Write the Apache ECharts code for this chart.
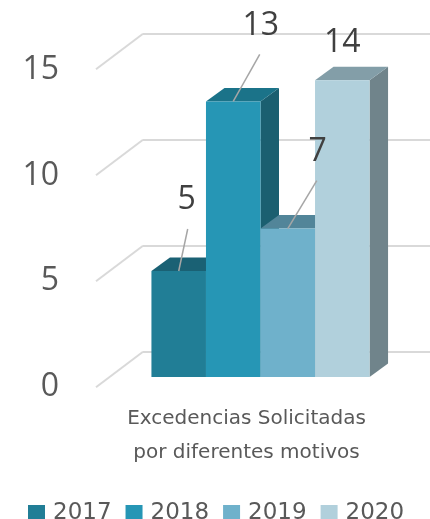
<!DOCTYPE html>
<html>
<head>
<meta charset="utf-8">
<style>html,body{margin:0;padding:0;background:#fff;overflow:hidden}#c{width:430px;height:519px}</style>
<script src="https://cdn.jsdelivr.net/npm/echarts@6/dist/echarts.min.js"></script>
</head>
<body>
<div id="c"></div>
<script>
const category = 'Excedencias Solicitadas\npor diferentes motivos';
const years = ['2017', '2018', '2019', '2020'];
const values = [5, 13, 7, 14];
const yTicks = [0, 5, 10, 15];

const frontColors = ['#217e96', '#2696b5', '#6fb1cb', '#b1d0dc'];
const topColors = ['#1a6174', '#1b7389', '#528599', '#839ea8'];
const sideColors = ['#1a5a6b', '#1b5f70', '#4d7a8c', '#70848b'];
// [label dx, label dy, leader dx, leader dy] from the front-top centre of each bar
const labelOffsets = [[8, -71, 9, -42], [27.5, -76, 26.5, -47], [30, -77, 29, -48], [0, -37, null, null]];

const BAR_RATIO = 0.19, SHIFT_X = -26, SHIFT_Y = 25.3, DEPTH_X = 18.5, DEPTH_Y = 13.5;

function barFront(api, i, v) {
  const c = api.coord([0, 0]);
  const w = api.size([1, 0])[0] * BAR_RATIO;
  const x = c[0] + SHIFT_X + (i - 2) * w;
  return { x, w, y0: c[1] + SHIFT_Y, y1: api.coord([0, v])[1] + SHIFT_Y };
}

const barSeries = years.map((y, i) => ({
  name: y,
  type: 'custom',
  z: 3 + i * 0.01,
  itemStyle: { color: frontColors[i] },
  encode: { x: 0, y: 1 },
  data: [[0, values[i]]],
  renderItem(params, api) {
    const b = barFront(api, i, api.value(1));
    const r = b.x + b.w;
    return {
      type: 'group',
      children: [
        { type: 'polygon', shape: { points: [[r, b.y0], [r + DEPTH_X, b.y0 - DEPTH_Y], [r + DEPTH_X, b.y1 - DEPTH_Y], [r, b.y1]] }, style: { fill: sideColors[i] } },
        { type: 'polygon', shape: { points: [[b.x, b.y1], [b.x + DEPTH_X, b.y1 - DEPTH_Y], [r + DEPTH_X, b.y1 - DEPTH_Y], [r, b.y1]] }, style: { fill: topColors[i] } },
        { type: 'rect', shape: { x: b.x, y: b.y1, width: b.w, height: b.y0 - b.y1 }, style: { fill: frontColors[i] } }
      ]
    };
  }
}));

const option = {
  animation: false,
  backgroundColor: '#ffffff',
  grid: [
    { left: 143, right: 0, top: 33.7, bottom: 167.3, outerBoundsMode: 'none' },
    { left: 96, right: 0, top: 69.5, bottom: 131.7, outerBoundsMode: 'none' }
  ],
  legend: {
    data: years,
    left: 23,
    top: 497,
    icon: 'rect',
    itemWidth: 17,
    itemHeight: 17,
    itemGap: 14,
    textStyle: { fontFamily: 'DejaVu Sans', fontSize: 23, color: '#595959', padding: [0, 0, 0, 3] }
  },
  xAxis: [
    {
      type: 'category',
      gridIndex: 0,
      data: [category],
      axisLine: { show: false },
      axisTick: { show: false },
      axisLabel: {
        margin: 50,
        fontFamily: 'DejaVu Sans',
        fontSize: 20,
        lineHeight: 34,
        color: '#595959',
        padding: [0, 80, 0, 0]
      }
    },
    { type: 'category', gridIndex: 1, data: [category], show: false }
  ],
  yAxis: [
    {
      type: 'value',
      gridIndex: 0,
      min: 0,
      max: 15,
      interval: 5,
      axisLine: { show: false },
      axisTick: { show: false },
      axisLabel: { show: false },
      splitLine: { lineStyle: { color: '#d9d9d9', width: 2 } }
    },
    {
      type: 'value',
      gridIndex: 1,
      min: 0,
      max: 15,
      interval: 5,
      axisLine: { show: false },
      axisTick: { show: false },
      splitLine: { show: false },
      axisLabel: {
        margin: 37,
        fontFamily: 'Open Sans',
        fontSize: 32,
        color: '#595959'
      }
    }
  ],
  series: [
    {
      name: 'floorLines',
      type: 'custom',
      z: 1,
      encode: { x: 0, y: 1 },
      data: yTicks.map(t => [0, t]),
      renderItem(params, api) {
        const p = api.coord([0, api.value(1)]);
        const x = params.coordSys.x;
        return { type: 'line', shape: { x1: x, y1: p[1], x2: x - 47, y2: p[1] + 35.5 }, style: { stroke: '#d9d9d9', lineWidth: 2 } };
      }
    },
    ...barSeries,
    {
      name: 'valueLabels',
      type: 'custom',
      z: 6,
      encode: { x: 0, y: 1 },
      data: values.map(v => [0, v]),
      renderItem(params, api) {
        const i = params.dataIndex;
        const b = barFront(api, i, api.value(1));
        const cx = b.x + b.w / 2;
        const o = labelOffsets[i];
        const children = [{
          type: 'text',
          style: {
            x: cx + o[0], y: b.y1 + o[1], text: String(values[i]), align: 'center', verticalAlign: 'middle',
            fontFamily: 'Open Sans', fontSize: 32, fill: '#404040'
          }
        }];
        if (o[2] !== null) {
          children.push({ type: 'line', shape: { x1: cx, y1: b.y1, x2: cx + o[2], y2: b.y1 + o[3] }, style: { stroke: '#a6a6a6', lineWidth: 1.5 } });
        }
        return { type: 'group', children };
      }
    }
  ]
};
echarts.init(document.getElementById('c'), null, { renderer: 'canvas' }).setOption(option);
</script>
</body>
</html>
